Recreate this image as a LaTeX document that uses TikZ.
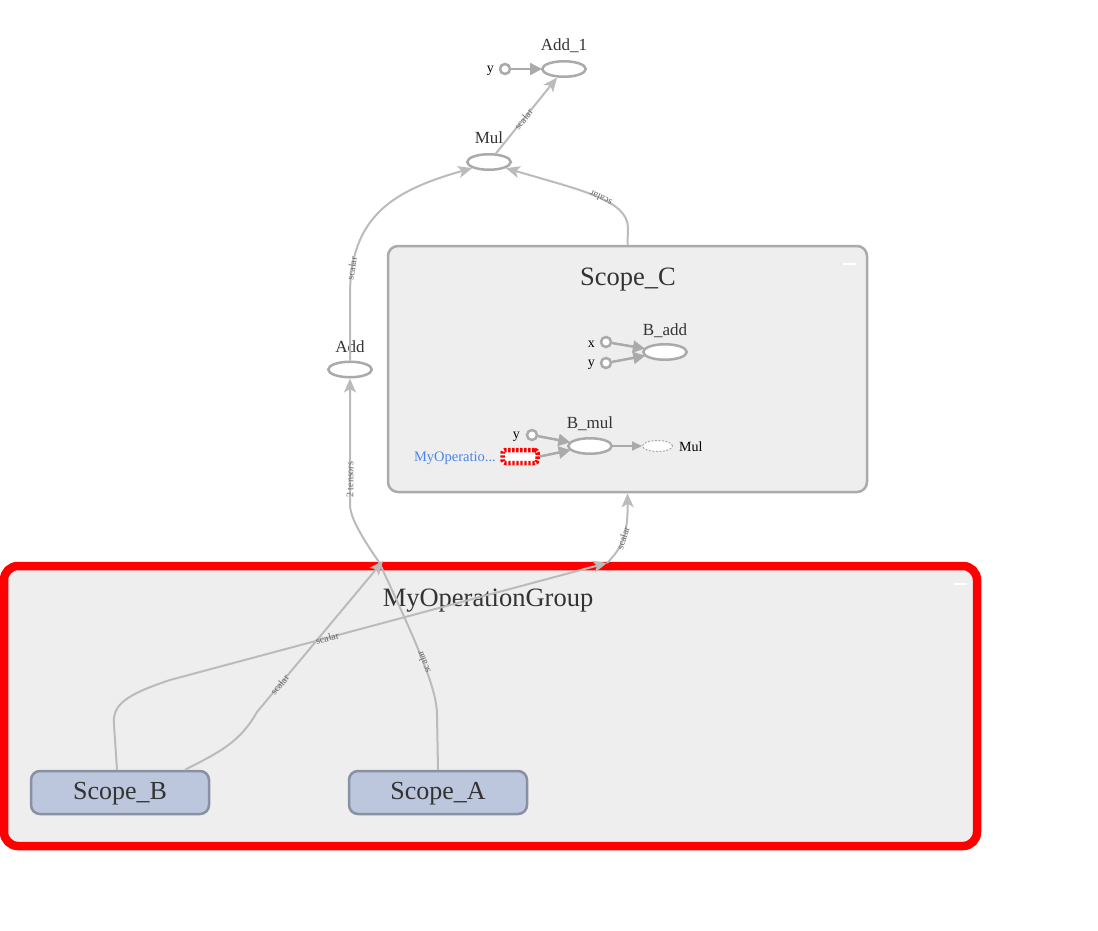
\documentclass[tikz,border=0pt]{standalone}
\usepackage{fontspec}
\setmainfont{Liberation Serif}
\usetikzlibrary{arrows.meta,shapes.geometric,calc}
\definecolor{edgec}{HTML}{BBBBBB}
\definecolor{innerc}{HTML}{AAAAAA}
\definecolor{boxfill}{HTML}{EEEEEE}
\definecolor{txtc}{HTML}{333333}
\definecolor{lblc}{HTML}{666666}
\definecolor{scopefill}{HTML}{BCC6DC}
\definecolor{scopeline}{HTML}{8891A3}
\definecolor{bluetxt}{HTML}{4A86E8}
\tikzset{
  opnode/.style={ellipse,draw=innerc,line width=2.5pt,fill=white,minimum width=43.5pt,minimum height=15.5pt,inner sep=0pt},
  portc/.style={circle,draw=innerc,line width=2.5pt,fill=white,minimum size=10pt,inner sep=0pt},
  optitle/.style={text=txtc,font=\fontsize{17}{19}\selectfont,inner sep=0pt},
  smalltxt/.style={text=black,font=\fontsize{14}{16}\selectfont,inner sep=0pt},
  edg/.style={draw=edgec,line width=2pt,-{Stealth[length=14pt,width=12pt,inset=3.5pt]}},
  edgnoarrow/.style={draw=edgec,line width=2pt},
  inedg/.style={draw=innerc,line width=2.5pt,-{Triangle[length=12pt,width=12pt]},shorten >=-1pt},
  lbl/.style={text=lblc,font=\fontsize{10}{11}\selectfont,inner sep=0pt,sloped,allow upside down},
  grpbox/.style={rectangle,rounded corners=10pt,draw=innerc,line width=2.5pt,fill=boxfill,inner sep=0pt},
  scopebox/.style={rectangle,rounded corners=9pt,draw=scopeline,line width=2.5pt,fill=scopefill,inner sep=0pt,minimum width=178pt,minimum height=43pt},
  scopetxt/.style={text=txtc,font=\fontsize{26}{30}\selectfont,inner sep=0pt,anchor=base},
  bigtitle/.style={text=txtc,font=\fontsize{26.5}{30}\selectfont,inner sep=0pt},
  minus/.style={draw=white,line width=2.5pt}
}
\begin{document}
\begin{tikzpicture}[x=1pt,y=-1pt]
\useasboundingbox (0,0) rectangle (1098,931);

% group boxes
\node[rectangle,rounded corners=14pt,draw=red,line width=8.5pt,fill=boxfill,minimum width=973pt,minimum height=280pt,inner sep=0pt] (grp) at (490.5,706) {};
\node[bigtitle] (grptitle) at (488,601) {MyOperationGroup};
\draw[minus] (954,584) -- (967,584);

\node[grpbox,minimum width=479pt,minimum height=246pt] (scopec) at (627.5,369) {};
\node[bigtitle] (sctitle) at (628,280) {Scope\_C};
\draw[minus] (843,264) -- (856,264);

% top ops
\node[opnode] (add1) at (564,69) {};
\node[optitle,anchor=base] (add1t) at (564,51) {Add\_1};
\node[portc] (y1) at (505,69) {};
\node[smalltxt,anchor=east] (y1t) at (494,71) {y};

\node[opnode] (mul) at (489,162) {};
\node[optitle,anchor=base] (mult) at (489,144) {Mul};

\node[opnode] (add) at (350,369.5) {};
\node[optitle,anchor=base] (addt) at (350,352) {Add};

% Scope_C content
\node[opnode] (badd) at (665,352) {};
\node[optitle,anchor=base] (baddt) at (665,335) {B\_add};
\node[portc] (bx) at (606,342) {};
\node[smalltxt,anchor=east] (bxt) at (595,344) {x};
\node[portc] (by) at (606,363) {};
\node[smalltxt,anchor=east] (byt) at (595,365) {y};

\node[opnode] (bmul) at (590,446) {};
\node[optitle,anchor=base] (bmult) at (590,428) {B\_mul};
\node[portc] (bmy) at (532,435) {};
\node[smalltxt,anchor=east] (bmyt) at (520,437) {y};
\node[rectangle,rounded corners=3pt,draw=red,line width=4.5pt,dash pattern=on 2.3pt off 1.7pt,fill=white,minimum width=35pt,minimum height=13pt,inner sep=0pt] (redbox) at (520,456.5) {};
\node[text=bluetxt,font=\fontsize{14.5}{16}\selectfont,inner sep=0pt,anchor=east] (redt) at (496,458) {MyOperatio...};
\node[ellipse,draw=innerc,line width=1pt,dash pattern=on 2pt off 1.5pt,fill=white,minimum width=30pt,minimum height=11pt,inner sep=0pt] (dmul) at (657.5,446) {};
\node[smalltxt,anchor=west] (dmult) at (679,447) {Mul};

% Scope boxes
\node[scopebox] (scopeb) at (120,792.5) {};
\node[scopetxt] (scopebt) at (120,799) {Scope\_B};
\node[scopebox] (scopea) at (438,792.5) {};
\node[scopetxt] (scopeat) at (438,799) {Scope\_A};

% coordinates on the group border
\coordinate (gA) at (379,562);
\coordinate (gC) at (607,563);

% inner edges
\draw[inedg] (y1) -- (add1);
\draw[inedg] (bx) -- (badd);
\draw[inedg] (by) -- (badd);
\draw[inedg] (bmy) -- (bmul);
\draw[inedg] (redbox.east) -- (bmul);
\draw[draw=innerc,line width=2pt,-{Triangle[length=10pt,width=9pt]}] (bmul) -- (dmul);

% outer edges
\draw[edg] (mul) -- node[lbl,pos=0.45]{scalar} (add1);
\draw[edg] (add.north) -- (350,295) .. controls (350,215) and (395,190) .. node[lbl,pos=0.12]{scalar} (mul.200);
\draw[edg] (scopec.north) -- (628,228) .. controls (628,200) and (580,190) .. node[lbl,pos=0.45]{scalar} (mul.-20);
\draw[edg] (gA) .. controls (358,532) and (350,515) .. (350,505) -- node[lbl,pos=0.2]{2 tensors} (add.south);
\draw[edg] (gC) .. controls (622,548) and (628,535) .. node[lbl,pos=0.5]{scalar} (scopec.south);

% inside the group
\draw[edg] ([xshift=65pt]scopeb.north) .. controls (220,752) and (240,742) .. (257,712) -- node[lbl,pos=0.18]{scalar} ([xshift=4pt,yshift=1pt]gA);
\draw[edg] ([xshift=-3pt]scopeb.north) -- (114,725) .. controls (112,705) and (125,695) .. (170,680) -- node[lbl,pos=0.36]{scalar} (gC);
\draw[edgnoarrow] (scopea.north) -- (437,715) .. controls (437,690) and (420,650) .. node[lbl,pos=0.5]{scalar} (gA);
\end{tikzpicture}
\end{document}
